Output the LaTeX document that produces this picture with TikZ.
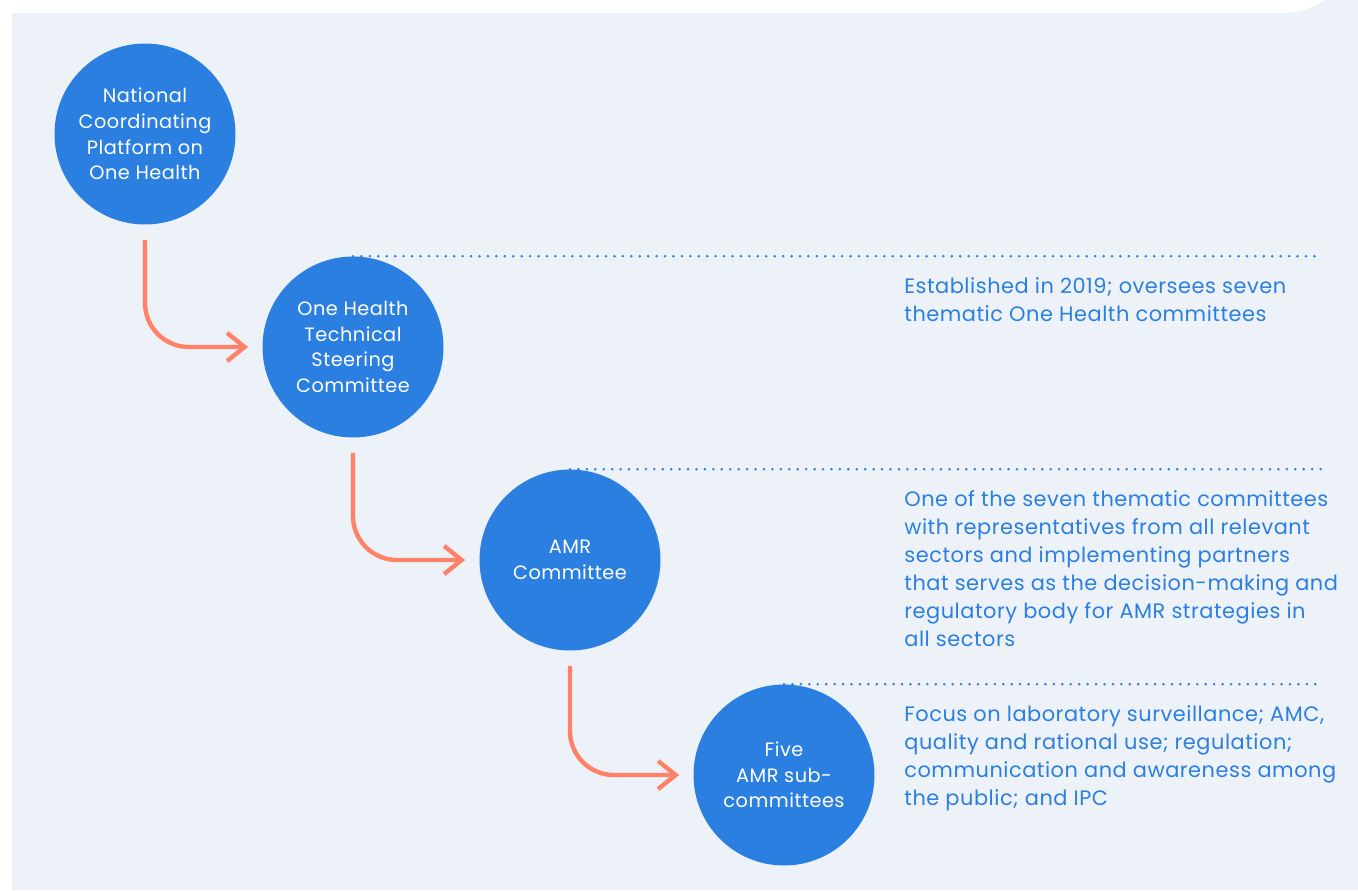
\documentclass[tikz,border=0pt]{standalone}
\usepackage{fontspec}
\setmainfont{Poppins}[LetterSpace=2.5]
\usetikzlibrary{calc, arrows.meta, backgrounds}
\definecolor{panel}{HTML}{EDF2F9}
\definecolor{hubblue}{HTML}{2B7FE0}
\definecolor{salmon}{HTML}{FF8268}

\begin{document}
\begin{tikzpicture}[x=0.02cm, y=-0.02cm,
    hub/.style={circle, fill=hubblue, text=white, minimum size=3.62cm, inner sep=0pt,
        align=center, font=\fontsize{11}{14.6}\selectfont},
    link/.style={draw=salmon, line width=2.5pt, rounded corners=25pt,
        -{Straight Barb[length=10pt, width=16pt]}},
    dotline/.style={draw=hubblue, line width=1.6pt, line cap=round, dash pattern=on 0pt off 4.8pt},
    note/.style={anchor=base west, inner sep=0pt, align=left, text=hubblue,
        font=\fontsize{11.9}{15.9}\selectfont}]
        \useasboundingbox (0,0) rectangle (1358,890);

        % the four bodies
        \node[hub] (N) at (145,134) {National\\Coordinating\\Platform on\\One Health};
        \node[hub] (T) at (353,347) {One Health\\Technical\\Steering\\Committee};
        \node[hub] (A) at (570,560) {AMR\\Committee};
        \node[hub] (F) at (784,775) {Five\\AMR sub-\\committees};

        \coordinate (R) at (1322,0);

        % arrows from one body to the next
        \draw[link] ($(N.south)+(0,15)$) |- ($(T.west)+(-14,0)$);
        \draw[link] ($(T.south)+(0,15)$) |- ($(A.west)+(-14,0)$);
        \draw[link] ($(A.south)+(0,15)$) |- ($(F.west)+(-14,0)$);

        % notes (anchored on the baseline of their last line)
        \node[note] (nT) at (904,321) {Established in 2019; oversees seven\\thematic One Health committees};
        \node[note] (nA) at (904,646) {One of the seven thematic committees\\with representatives from all relevant\\sectors and implementing partners\\that serves as the decision-making and\\regulatory body for AMR strategies in\\all sectors};
        \node[note] (nF) at (904,805) {Focus on laboratory surveillance; AMC,\\quality and rational use; regulation;\\communication and awareness among\\the public; and IPC};

        \begin{scope}[on background layer]
        \fill[panel] (12,890) -- (12,13) -- (1283,13) arc[start angle=90, end angle=0, radius=75] -- (1358,890) -- cycle;
        \draw[dotline] (T.north) -- (T.north -| R);
        \draw[dotline] (A.north) -- (A.north -| R);
        \draw[dotline] (F.north) -- (F.north -| R);
        \end{scope}
\end{tikzpicture}
\end{document}
